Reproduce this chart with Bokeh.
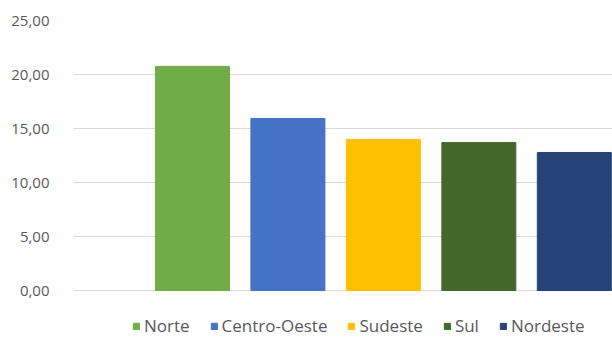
from bokeh.plotting import figure
from bokeh.models import ColumnDataSource, Range1d, FixedTicker, Legend, LegendItem
from bokeh.embed import file_html
from bokeh.resources import INLINE

regions = ["Norte", "Centro-Oeste", "Sudeste", "Sul", "Nordeste"]
values = [20.75, 15.93, 13.98, 13.70, 12.78]
colors = ["#70AD47", "#4472C4", "#FFC000", "#43682B", "#264478"]
y_ticks = [0, 5, 10, 15, 20, 25]
y_tick_labels = ["0,00", "5,00", "10,00", "15,00", "20,00", "25,00"]

src = ColumnDataSource(dict(x=list(range(len(regions))), top=values,
                            color=colors, region=regions))

p = figure(width=612, height=337, output_backend="svg", toolbar_location=None,
           x_range=Range1d(-1.246, 4.40), y_range=Range1d(-4.35, 25),
           min_border_left=73, min_border_right=0, min_border_top=20,
           min_border_bottom=0)
p.outline_line_color = None
p.background_fill_color = "white"
p.border_fill_color = "white"

r = p.vbar(x="x", top="top", bottom=0, width=0.775, color="color", source=src)

p.xaxis.visible = False
p.xgrid.visible = False
p.ygrid.grid_line_color = "#D9D9D9"
p.ygrid.grid_line_width = 1

yax = p.yaxis[0]
yax.ticker = FixedTicker(ticks=y_ticks)
yax.major_label_overrides = {t: l for t, l in zip(y_ticks, y_tick_labels)}
yax.axis_line_color = None
yax.major_tick_line_color = None
yax.minor_tick_line_color = None
yax.major_label_text_font = "Open Sans"
yax.major_label_text_font_size = "15px"
yax.major_label_text_color = "#595959"
yax.major_label_standoff = 18

items = [LegendItem(label=regions[i], renderers=[r], index=i) for i in range(len(regions))]
legend = Legend(items=items, orientation="horizontal", location=(59, 0),
                label_text_font="Open Sans", label_text_font_size="17px",
                label_text_color="#595959", glyph_width=8, glyph_height=8,
                label_height=18, label_standoff=4, spacing=20, padding=0,
                margin=0, border_line_color=None, background_fill_alpha=0)
p.add_layout(legend, "center")

open("out.html", "w").write(file_html(p, INLINE))
